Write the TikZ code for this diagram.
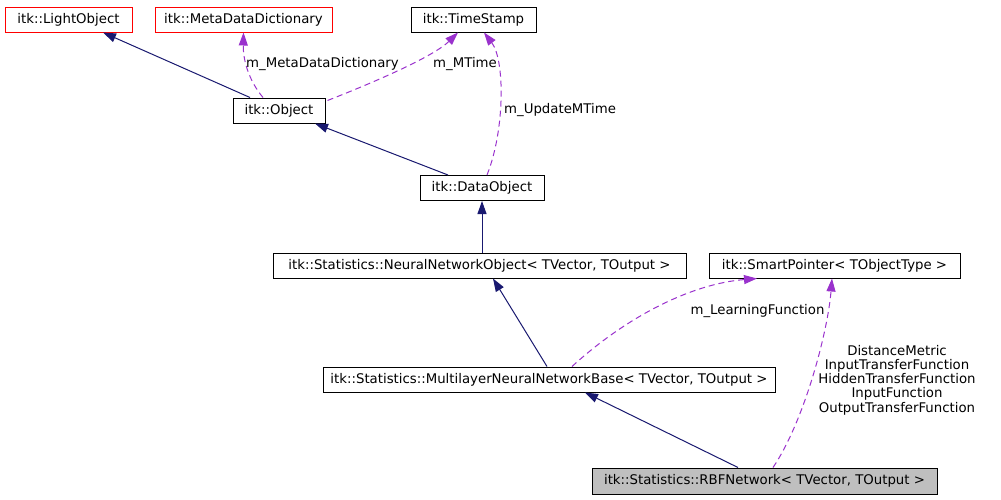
\documentclass[tikz,border=0pt]{standalone}
\usepackage{fontspec}
\setmainfont{DejaVu Sans}
\usetikzlibrary{arrows.meta}
\definecolor{navyc}{RGB}{25,25,112}
\definecolor{purplec}{RGB}{154,50,205}
\definecolor{redc}{RGB}{255,0,0}
\definecolor{grayc}{RGB}{191,191,191}
\begin{document}
\begin{tikzpicture}[x=1pt,y=-1pt,
  cls/.style={draw=black, line width=1pt, minimum height=25pt, inner sep=0pt,
    font=\fontsize{13.3}{15}\selectfont, anchor=center},
  redcls/.style={cls, draw=redc},
  inherit/.style={draw=navyc, line width=1pt,
    -{Triangle[length=13pt,width=9pt,fill=navyc]}},
  usage/.style={draw=purplec, line width=1pt, dash pattern=on 6pt off 4pt,
    -{Triangle[length=13pt,width=9pt,fill=purplec]}},
  lbl/.style={font=\fontsize{13.3}{14.3}\selectfont, inner sep=0pt, text=black}
]
\useasboundingbox[fill=white] (0,0) rectangle (1001,499);

\node[redcls, minimum width=127pt] (lo) at (68.5,19.5) {itk::LightObject};
\node[redcls, minimum width=177pt] (md) at (243.5,19.5) {itk::MetaDataDictionary};
\node[cls, minimum width=125pt] (ts) at (473.5,19.5) {itk::TimeStamp};
\node[cls, minimum width=92pt] (ob) at (279,110.5) {itk::Object};
\node[cls, minimum width=124pt] (do) at (482,188) {itk::DataObject};
\node[cls, minimum width=413pt] (nn) at (479.5,265.5) {itk::Statistics::NeuralNetworkObject< TVector, TOutput >};
\node[cls, minimum width=251pt] (sp) at (834.5,265.5) {itk::SmartPointer< TObjectType >};
\node[cls, minimum width=452pt] (ml) at (549,379.5) {itk::Statistics::MultilayerNeuralNetworkBase< TVector, TOutput >};
\node[cls, fill=grayc, minimum width=345pt, minimum height=26pt] (rb) at (764.5,481) {itk::Statistics::RBFNetwork< TVector, TOutput >};

% inheritance
\draw[inherit] ([xshift=-29pt]ob.north) -- ([xshift=34.5pt]lo.south);
\draw[inherit] ([xshift=-34pt]do.north) -- ([xshift=36pt]ob.south);
\draw[inherit] (nn.north -| do.south) -- (do.south);
\draw[inherit] ([xshift=-2pt]ml.north) -- ([xshift=13.5pt]nn.south);
\draw[inherit] ([xshift=-26.5pt]rb.north) -- ([xshift=36pt]ml.south);

% usage
\draw[usage] ([xshift=-16pt]ob.north) .. controls (250,82) and (243,62) .. (md.south);
\draw[usage] ([xshift=2pt,yshift=-3pt]ob.north east) .. controls (385,78) and (435,55) .. ([xshift=-15.5pt]ts.south);
\draw[usage] ([xshift=5pt]do.north) .. controls (505,130) and (505,60) .. ([xshift=10.5pt]ts.south);
\draw[usage] ([xshift=23pt]ml.north) .. controls (625,318) and (690,284) .. ([xshift=-77.5pt]sp.south);
\draw[usage] ([xshift=8.5pt]rb.north) .. controls (805,420) and (828,330) .. ([xshift=-2.5pt]sp.south);

% labels
\node[lbl, anchor=west] (l1) at (246,64) {m\_MetaDataDictionary};
\node[lbl, anchor=west] (l2) at (433,64) {m\_MTime};
\node[lbl, anchor=west] (l3) at (504,110) {m\_UpdateMTime};
\node[lbl, anchor=center] (l4) at (757.5,311) {m\_LearningFunction};
\node[lbl, anchor=center, align=center] (l5) at (897,380) {DistanceMetric\\InputTransferFunction\\HiddenTransferFunction\\InputFunction\\OutputTransferFunction};
\end{tikzpicture}
\end{document}
